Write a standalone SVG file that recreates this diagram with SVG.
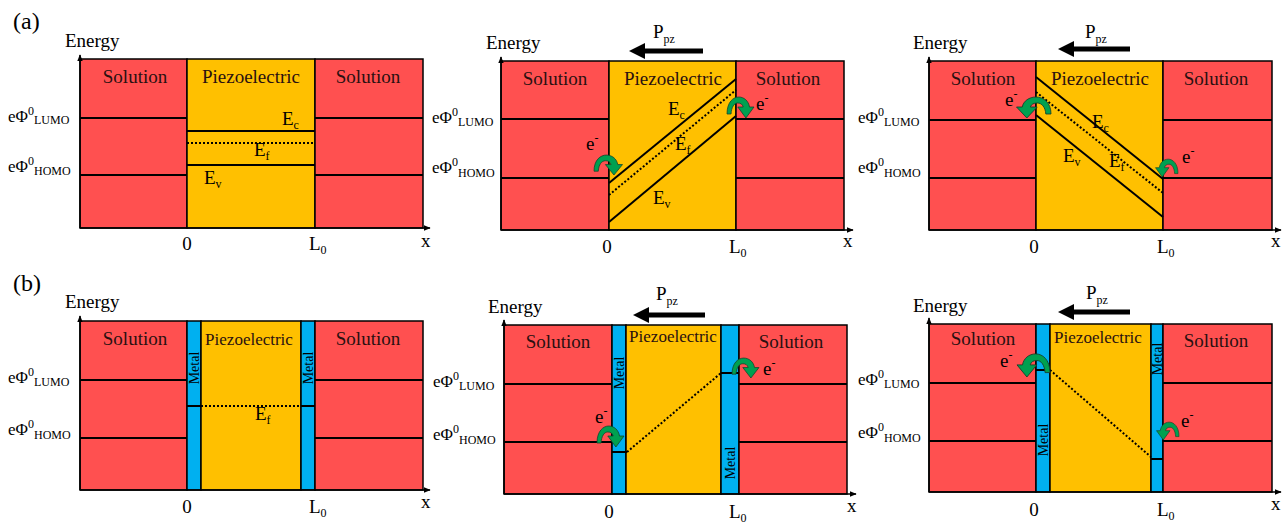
<svg xmlns="http://www.w3.org/2000/svg" width="1288" height="523" viewBox="0 0 1288 523" font-family="'Liberation Serif', 'DejaVu Serif', serif">
<defs>
<marker id="ax" viewBox="0 0 10 10" refX="9" refY="5" markerWidth="7" markerHeight="7" markerUnits="userSpaceOnUse" orient="auto"><path d="M0,1 L10,5 L0,9 Z" fill="#000"/></marker>
<path id="carrow" d="M0,16 C0,4 7,-1 13,-1 C19,-1 24,3 25,9 L30,9 L21,20 L12,9 L18,9 C17,6 15,5 12,5 C8,5 5,9 4.5,16 Z"/>
</defs>
<style>
text{font-family:'Liberation Serif','DejaVu Serif',serif;fill:#000}
.t{font-size:19px}
.lab{font-size:19px;fill:#2a1010}
.pzs{font-size:17px}
.s{font-size:12px}
.m{font-size:14px}
.sol{fill:#FF5050;stroke:#000;stroke-width:1.5}
.pie{fill:#FFC000;stroke:#000;stroke-width:1.5}
.met{fill:#00B0F0;stroke:#000;stroke-width:1.5}
.ln{stroke:#000;stroke-width:2;fill:none}
.dot{stroke:#000;stroke-width:2;fill:none;stroke-dasharray:2,2}
.axis{stroke:#000;stroke-width:1.5;fill:none;marker-end:url(#ax)}
.ca{fill:#00A050;stroke:#14402a;stroke-width:0.8}
.pp{stroke:#000;stroke-width:5;fill:none}
</style>

<text x="13" y="29" style="font-size:24px">(a)</text>
<text x="13" y="291" style="font-size:24px">(b)</text>

<!-- Panel a1 -->
<g id="a1">
<rect class="sol" x="80" y="59" width="107" height="169"/>
<rect class="pie" x="187" y="59" width="128" height="169"/>
<rect class="sol" x="315" y="59" width="108" height="169"/>
<line class="ln" x1="80" y1="118" x2="187" y2="118"/><line class="ln" x1="315" y1="118" x2="423" y2="118"/>
<line class="ln" x1="80" y1="175" x2="187" y2="175"/><line class="ln" x1="315" y1="175" x2="423" y2="175"/>
<line class="ln" x1="187" y1="131" x2="315" y2="131"/>
<line class="dot" x1="187" y1="143" x2="315" y2="143"/>
<line class="ln" x1="187" y1="165" x2="315" y2="165"/>
<line class="axis" x1="80" y1="228" x2="80" y2="55"/>
<line class="axis" x1="80" y1="228" x2="430" y2="228"/>
<text class="lab" x="135" y="83" text-anchor="middle">Solution</text>
<text class="lab" x="251" y="83" text-anchor="middle">Piezoelectric</text>
<text class="lab" x="368" y="83" text-anchor="middle">Solution</text>
<text class="t" x="282" y="125">E<tspan class="s" dy="4">c</tspan></text>
<text class="t" x="254" y="156">E<tspan class="s" dy="4">f</tspan></text>
<text class="t" x="204" y="184">E<tspan class="s" dy="4">v</tspan></text>
<text class="t" x="65" y="47">Energy</text>
<text class="t" x="8" y="122" style="font-size:17px">eΦ<tspan class="s" dy="-7">0</tspan><tspan class="s" dy="9">LUMO</tspan></text>
<text class="t" x="8" y="172" style="font-size:17px">eΦ<tspan class="s" dy="-7">0</tspan><tspan class="s" dy="10">HOMO</tspan></text>
<text class="t" x="187" y="250" text-anchor="middle">0</text>
<text class="t" x="309" y="250">L<tspan class="s" dy="4">0</tspan></text>
<text class="t" x="421" y="247">x</text>
</g>

<!-- Panel a2 -->
<g id="a2">
<rect class="sol" x="501" y="61" width="108" height="169"/>
<rect class="pie" x="609" y="61" width="127" height="169"/>
<rect class="sol" x="736" y="61" width="108" height="169"/>
<line class="ln" x1="501" y1="119" x2="609" y2="119"/><line class="ln" x1="736" y1="119" x2="844" y2="119"/>
<line class="ln" x1="501" y1="178" x2="609" y2="178"/><line class="ln" x1="736" y1="178" x2="844" y2="178"/>
<line class="ln" x1="609" y1="183" x2="736" y2="79"/>
<line class="dot" x1="609" y1="195" x2="736" y2="90"/>
<line class="ln" x1="609" y1="222" x2="736" y2="116"/>
<line class="axis" x1="501" y1="230" x2="501" y2="57"/>
<line class="axis" x1="501" y1="230" x2="853" y2="230"/>
<text class="lab" x="555" y="85" text-anchor="middle">Solution</text>
<text class="lab" x="673" y="85" text-anchor="middle">Piezoelectric</text>
<text class="lab" x="788" y="85" text-anchor="middle">Solution</text>
<text class="t" x="668" y="115">E<tspan class="s" dy="4">c</tspan></text>
<text class="t" x="675" y="150">E<tspan class="s" dy="4">f</tspan></text>
<text class="t" x="653" y="204">E<tspan class="s" dy="4">v</tspan></text>
<text class="t" x="486" y="49">Energy</text>
<text class="t" x="432" y="123" style="font-size:17px">eΦ<tspan class="s" dy="-7">0</tspan><tspan class="s" dy="10">LUMO</tspan></text>
<text class="t" x="432" y="173" style="font-size:17px">eΦ<tspan class="s" dy="-7">0</tspan><tspan class="s" dy="11">HOMO</tspan></text>
<text class="t" x="607" y="253" text-anchor="middle">0</text>
<text class="t" x="729" y="253">L<tspan class="s" dy="4">0</tspan></text>
<text class="t" x="843" y="247">x</text>
<line class="pp" x1="703" y1="51" x2="641" y2="51"/><path d="M629,51 L645,43 L645,59 Z" fill="#000"/>
<text class="t" x="653" y="38">P<tspan class="s" dy="5">pz</tspan></text>
<use href="#carrow" class="ca" transform="translate(594,156) scale(0.95)"/>
<text class="t" x="586" y="150">e<tspan class="s" dy="-8">-</tspan></text>
<use href="#carrow" class="ca" transform="translate(727,98) scale(0.9,1.0)"/>
<text class="t" x="756" y="110">e<tspan class="s" dy="-8">-</tspan></text>
</g>

<!-- Panel a3 -->
<g id="a3">
<rect class="sol" x="929" y="61" width="107" height="169"/>
<rect class="pie" x="1036" y="61" width="127" height="169"/>
<rect class="sol" x="1163" y="61" width="109" height="169"/>
<line class="ln" x1="929" y1="120" x2="1036" y2="120"/><line class="ln" x1="1163" y1="120" x2="1272" y2="120"/>
<line class="ln" x1="929" y1="178" x2="1036" y2="178"/><line class="ln" x1="1163" y1="178" x2="1272" y2="178"/>
<line class="ln" x1="1036" y1="77" x2="1163" y2="179"/>
<line class="dot" x1="1036" y1="92" x2="1163" y2="193"/>
<line class="ln" x1="1036" y1="115" x2="1163" y2="217"/>
<line class="axis" x1="929" y1="230" x2="929" y2="57"/>
<line class="axis" x1="929" y1="230" x2="1281" y2="230"/>
<text class="lab" x="983" y="85" text-anchor="middle">Solution</text>
<text class="lab" x="1100" y="85" text-anchor="middle">Piezoelectric</text>
<text class="lab" x="1216" y="85" text-anchor="middle">Solution</text>
<text class="t" x="1092" y="128">E<tspan class="s" dy="4">c</tspan></text>
<text class="t" x="1109" y="167">E<tspan class="s" dy="4">f</tspan></text>
<text class="t" x="1063" y="162">E<tspan class="s" dy="4">v</tspan></text>
<text class="t" x="913" y="49">Energy</text>
<text class="t" x="858" y="123" style="font-size:17px">eΦ<tspan class="s" dy="-7">0</tspan><tspan class="s" dy="10">LUMO</tspan></text>
<text class="t" x="858" y="173" style="font-size:17px">eΦ<tspan class="s" dy="-7">0</tspan><tspan class="s" dy="11">HOMO</tspan></text>
<text class="t" x="1034" y="253" text-anchor="middle">0</text>
<text class="t" x="1157" y="253">L<tspan class="s" dy="4">0</tspan></text>
<text class="t" x="1271" y="247">x</text>
<line class="pp" x1="1130" y1="49" x2="1070" y2="49"/><path d="M1058,49 L1074,41 L1074,57 Z" fill="#000"/>
<text class="t" x="1085" y="38">P<tspan class="s" dy="5">pz</tspan></text>
<use href="#carrow" class="ca" transform="translate(1051,98) scale(-1.15,1.0)"/>
<text class="t" x="1005" y="106">e<tspan class="s" dy="-8">-</tspan></text>
<use href="#carrow" class="ca" transform="translate(1178,160) scale(-0.75,0.85)"/>
<text class="t" x="1182" y="163">e<tspan class="s" dy="-8">-</tspan></text>
</g>

<!-- Panel b1 -->
<g id="b1">
<rect class="sol" x="80" y="321" width="107" height="169"/>
<rect class="met" x="187" y="321" width="14" height="169"/>
<rect class="pie" x="201" y="321" width="100" height="169"/>
<rect class="met" x="301" y="321" width="14" height="169"/>
<rect class="sol" x="315" y="321" width="108" height="169"/>
<line class="ln" x1="80" y1="380" x2="187" y2="380"/><line class="ln" x1="315" y1="380" x2="423" y2="380"/>
<line class="ln" x1="80" y1="438" x2="187" y2="438"/><line class="ln" x1="315" y1="438" x2="423" y2="438"/>
<line class="ln" x1="187" y1="406" x2="201" y2="406"/><line class="ln" x1="301" y1="406" x2="315" y2="406"/>
<line class="dot" x1="201" y1="406" x2="301" y2="406"/>
<line class="axis" x1="80" y1="490" x2="80" y2="316"/>
<line class="axis" x1="80" y1="490" x2="430" y2="490"/>
<text class="lab" x="135" y="345" text-anchor="middle">Solution</text>
<text class="lab pzs" x="249" y="345" text-anchor="middle">Piezoelectric</text>
<text class="lab" x="368" y="345" text-anchor="middle">Solution</text>
<text class="m" transform="translate(199,368) rotate(-90)" text-anchor="middle">Metal</text>
<text class="m" transform="translate(313,368) rotate(-90)" text-anchor="middle">Metal</text>
<text class="t" x="255" y="420">E<tspan class="s" dy="4">f</tspan></text>
<text class="t" x="65" y="308">Energy</text>
<text class="t" x="8" y="383" style="font-size:17px">eΦ<tspan class="s" dy="-7">0</tspan><tspan class="s" dy="10">LUMO</tspan></text>
<text class="t" x="8" y="435" style="font-size:17px">eΦ<tspan class="s" dy="-7">0</tspan><tspan class="s" dy="11">HOMO</tspan></text>
<text class="t" x="187" y="513" text-anchor="middle">0</text>
<text class="t" x="309" y="513">L<tspan class="s" dy="4">0</tspan></text>
<text class="t" x="421" y="508">x</text>
</g>

<!-- Panel b2 -->
<g id="b2">
<rect class="sol" x="504" y="325" width="108" height="169"/>
<rect class="met" x="612" y="325" width="14" height="169"/>
<rect class="pie" x="626" y="325" width="95" height="169"/>
<rect class="met" x="721" y="325" width="18" height="169"/>
<rect class="sol" x="739" y="325" width="108" height="169"/>
<line class="ln" x1="504" y1="384" x2="612" y2="384"/><line class="ln" x1="739" y1="384" x2="847" y2="384"/>
<line class="ln" x1="504" y1="442" x2="612" y2="442"/><line class="ln" x1="739" y1="442" x2="847" y2="442"/>
<line class="ln" x1="612" y1="452" x2="627" y2="452"/><line class="ln" x1="721" y1="373" x2="739" y2="373"/>
<line class="dot" x1="627" y1="452" x2="721" y2="373"/>
<line class="axis" x1="504" y1="494" x2="504" y2="320"/>
<line class="axis" x1="504" y1="494" x2="856" y2="494"/>
<text class="lab" x="558" y="348" text-anchor="middle">Solution</text>
<text class="lab pzs" x="673" y="342" text-anchor="middle">Piezoelectric</text>
<text class="lab" x="791" y="348" text-anchor="middle">Solution</text>
<text class="m" transform="translate(624,373) rotate(-90)" text-anchor="middle">Metal</text>
<text class="m" transform="translate(735,463) rotate(-90)" text-anchor="middle">Metal</text>
<text class="t" x="488" y="313">Energy</text>
<text class="t" x="433" y="387" style="font-size:17px">eΦ<tspan class="s" dy="-7">0</tspan><tspan class="s" dy="10">LUMO</tspan></text>
<text class="t" x="433" y="440" style="font-size:17px">eΦ<tspan class="s" dy="-7">0</tspan><tspan class="s" dy="11">HOMO</tspan></text>
<text class="t" x="609" y="518" text-anchor="middle">0</text>
<text class="t" x="729" y="518">L<tspan class="s" dy="4">0</tspan></text>
<text class="t" x="847" y="512">x</text>
<line class="pp" x1="705" y1="315" x2="645" y2="315"/><path d="M633,315 L649,307 L649,323 Z" fill="#000"/>
<text class="t" x="656" y="300">P<tspan class="s" dy="5">pz</tspan></text>
<use href="#carrow" class="ca" transform="translate(597,427) scale(0.9,1.0)"/>
<text class="t" x="595" y="423">e<tspan class="s" dy="-8">-</tspan></text>
<use href="#carrow" class="ca" transform="translate(732,359) scale(0.9,0.95)"/>
<text class="t" x="763" y="375">e<tspan class="s" dy="-8">-</tspan></text>
</g>

<!-- Panel b3 -->
<g id="b3">
<rect class="sol" x="929" y="324" width="107" height="168"/>
<rect class="met" x="1036" y="324" width="14" height="168"/>
<rect class="pie" x="1050" y="324" width="101" height="168"/>
<rect class="met" x="1151" y="324" width="12" height="168"/>
<rect class="sol" x="1163" y="324" width="109" height="168"/>
<line class="ln" x1="929" y1="383" x2="1036" y2="383"/><line class="ln" x1="1163" y1="383" x2="1272" y2="383"/>
<line class="ln" x1="929" y1="441" x2="1036" y2="441"/><line class="ln" x1="1163" y1="441" x2="1272" y2="441"/>
<line class="ln" x1="1036" y1="370" x2="1050" y2="370"/><line class="ln" x1="1151" y1="459" x2="1163" y2="459"/>
<line class="dot" x1="1050" y1="370" x2="1151" y2="457"/>
<line class="axis" x1="929" y1="492" x2="929" y2="318"/>
<line class="axis" x1="929" y1="492" x2="1281" y2="492"/>
<text class="lab" x="983" y="345" text-anchor="middle">Solution</text>
<text class="lab pzs" x="1098" y="343" text-anchor="middle">Piezoelectric</text>
<text class="lab" x="1216" y="347" text-anchor="middle">Solution</text>
<text class="m" transform="translate(1048,440) rotate(-90)" text-anchor="middle">Metal</text>
<text class="m" transform="translate(1162,359) rotate(-90)" text-anchor="middle">Metal</text>
<text class="t" x="913" y="312">Energy</text>
<text class="t" x="858" y="385" style="font-size:17px">eΦ<tspan class="s" dy="-7">0</tspan><tspan class="s" dy="10">LUMO</tspan></text>
<text class="t" x="858" y="438" style="font-size:17px">eΦ<tspan class="s" dy="-7">0</tspan><tspan class="s" dy="11">HOMO</tspan></text>
<text class="t" x="1034" y="516" text-anchor="middle">0</text>
<text class="t" x="1157" y="516">L<tspan class="s" dy="4">0</tspan></text>
<text class="t" x="1271" y="510">x</text>
<line class="pp" x1="1130" y1="312" x2="1070" y2="312"/><path d="M1058,312 L1074,304 L1074,320 Z" fill="#000"/>
<text class="t" x="1086" y="299">P<tspan class="s" dy="5">pz</tspan></text>
<use href="#carrow" class="ca" transform="translate(1050,355) scale(-1.1,1.1)"/>
<text class="t" x="1000" y="367">e<tspan class="s" dy="-8">-</tspan></text>
<use href="#carrow" class="ca" transform="translate(1179,423) scale(-0.75,0.85)"/>
<text class="t" x="1181" y="427">e<tspan class="s" dy="-8">-</tspan></text>
</g>
</svg>
